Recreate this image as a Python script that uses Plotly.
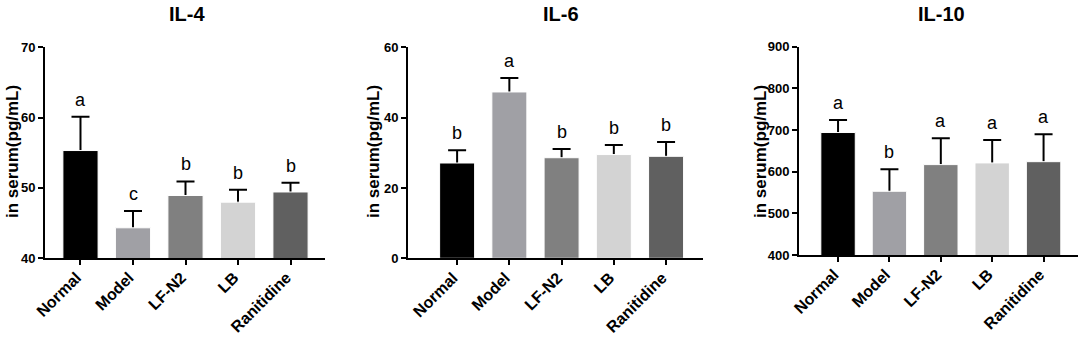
import plotly.graph_objects as go

W, H = 1084, 337

groups = ["Normal", "Model", "LF-N2", "LB", "Ranitidine"]
colors = ["#000000", "#a0a0a5", "#808080", "#d3d3d3", "#606060"]

titles = ["IL-4", "IL-6", "IL-10"]
il4_mean = [55.3, 44.3, 48.9, 47.95, 49.4]
il4_err = [4.8, 2.4, 2.0, 1.75, 1.3]
il4_letters = ["a", "c", "b", "b", "b"]

il6_mean = [27.1, 47.3, 28.6, 29.5, 29.0]
il6_err = [3.6, 4.0, 2.5, 2.7, 4.1]
il6_letters = ["b", "a", "b", "b", "b"]

il10_mean = [694, 553, 617, 621, 624]
il10_err = [30, 53, 63, 55, 66]
il10_letters = ["a", "b", "a", "a", "a"]

y_ranges = [[40, 70], [0, 60], [400, 900]]
y_dtick = [10, 20, 100]
y_title = "in serum(pg/mL)"

means = [il4_mean, il6_mean, il10_mean]
errs = [il4_err, il6_err, il10_err]
letters = [il4_letters, il6_letters, il10_letters]

# layout in pixels
x_dom_px = [(45, 325), (408, 703), (799, 1078)]
y_dom_px = [(47.3, 258), (47.3, 258.3), (46.7, 255)]
x_ranges = [[-0.676, 4.657], [-0.94, 4.707], [-0.76, 4.67]]
title_x_px = [187, 561, 941]
ytitle_x_px = [12, 373, 760]


def px_x(p):
    return p / W


def px_y(p):
    return 1 - p / H


FONT = "Liberation Sans, Arial, sans-serif"

fig = go.Figure()
for i in range(3):
    xa = "x" if i == 0 else f"x{i+1}"
    ya = "y" if i == 0 else f"y{i+1}"
    # error bars (drawn first, lower half hidden behind the bars)
    fig.add_trace(go.Bar(
        x=list(range(5)), y=means[i],
        marker=dict(color="rgba(0,0,0,0)", line=dict(width=0)),
        width=0.67,
        error_y=dict(type="data", symmetric=True, array=errs[i],
                     color="black", thickness=2, width=9),
        xaxis=xa, yaxis=ya, showlegend=False, hoverinfo="skip",
    ))
    fig.add_trace(go.Bar(
        x=list(range(5)), y=means[i],
        marker=dict(color=colors, line=dict(color="white", width=1)),
        width=0.67,
        xaxis=xa, yaxis=ya, showlegend=False,
    ))
    # letters
    for j in range(5):
        fig.add_annotation(
            x=j, y=means[i][j] + errs[i][j], xref=xa, yref=ya,
            text=letters[i][j], showarrow=False, yanchor="bottom", yshift=5,
            font=dict(family=FONT, size=18, color="black"),
        )
    xd = [px_x(x_dom_px[i][0]), px_x(x_dom_px[i][1])]
    yd = [px_y(y_dom_px[i][1]), px_y(y_dom_px[i][0])]
    axis_common = dict(showline=True, linecolor="black", linewidth=2,
                       ticks="outside", tickcolor="black", tickwidth=2,
                       ticklen=5, showgrid=False, zeroline=False,
                       automargin=False)
    fig.update_layout(**{
        ("xaxis" if i == 0 else f"xaxis{i+1}"): dict(
            domain=xd, range=x_ranges[i], tickmode="array",
            tickvals=list(range(5)), ticktext=groups, tickangle=-45,
            tickfont=dict(family=FONT, size=16, color="black", weight="bold"),
            ticklabelshift=-4, ticklabelstandoff=-3,
            anchor=ya, **axis_common),
        ("yaxis" if i == 0 else f"yaxis{i+1}"): dict(
            domain=yd, range=y_ranges[i], dtick=y_dtick[i],
            tickfont=dict(family=FONT, size=13, color="black", weight="bold"),
            anchor=xa, **axis_common),
    })
    fig.add_annotation(
        x=px_x(ytitle_x_px[i]), y=px_y(152), xref="paper", yref="paper",
        text=y_title, textangle=-90, showarrow=False, borderpad=0,
        xanchor="center", yanchor="middle",
        font=dict(family=FONT, size=17, color="black", weight="bold"),
    )
    fig.add_annotation(
        x=px_x(title_x_px[i]), y=px_y(14), xref="paper", yref="paper",
        text=titles[i], showarrow=False, xanchor="center", yanchor="middle",
        borderpad=0,
        font=dict(family=FONT, size=20, color="black", weight="bold"),
    )

fig.update_layout(
    width=W, height=H, margin=dict(l=0, r=0, t=0, b=0),
    plot_bgcolor="white", paper_bgcolor="white", barmode="overlay",
)
# remove the browser's default 8px body margin so the figure fills the window
fig.write_html("out.html", config={"displayModeBar": False},
               post_script="document.body.style.margin='0px';")
